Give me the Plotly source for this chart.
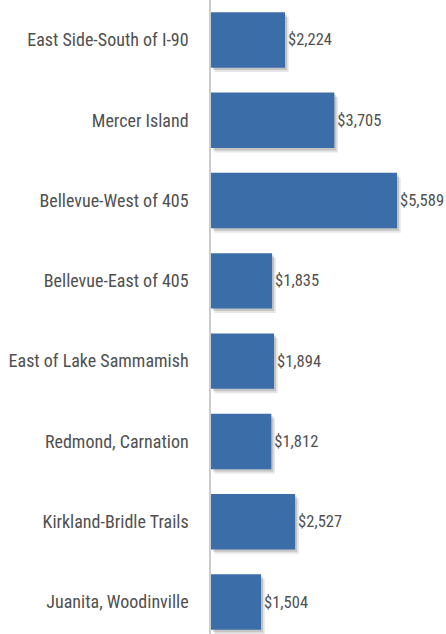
import plotly.graph_objects as go

categories = ["East Side-South of I-90", "Mercer Island", "Bellevue-West of 405",
              "Bellevue-East of 405", "East of Lake Sammamish", "Redmond, Carnation",
              "Kirkland-Bridle Trails", "Juanita, Woodinville"]
values = [2224, 3705, 5589, 1835, 1894, 1812, 2527, 1504]
labels = ["$" + format(v, ",") for v in values]

font_family = "Liberation Sans Narrow, Roboto Condensed, Arial Narrow, sans-serif"

fig = go.Figure()
# soft drop shadow
fig.add_trace(go.Bar(
    y=categories, x=values, orientation="h", base=110,
    width=0.69, offset=-0.29,
    marker=dict(color="rgba(0,0,0,0.10)", line=dict(width=0)),
    hoverinfo="skip", showlegend=False,
))
fig.add_trace(go.Bar(
    y=categories, x=values, orientation="h", base=60,
    width=0.69, offset=-0.315,
    marker=dict(color="rgba(0,0,0,0.14)", line=dict(width=0)),
    hoverinfo="skip", showlegend=False,
))
fig.add_trace(go.Bar(
    y=categories, x=values, orientation="h",
    width=0.69,
    marker=dict(color="#3b6ea8", line=dict(width=0)),
    text=labels, textposition="outside", cliponaxis=False,
    textfont=dict(family=font_family, size=16.5, color="#505050"),
    showlegend=False,
))

fig.update_layout(
    width=446, height=634,
    margin=dict(l=211, r=0, t=0, b=0),
    barmode="overlay",
    plot_bgcolor="white", paper_bgcolor="white",
    font=dict(family=font_family, color="#505050"),
    xaxis=dict(range=[0, 7060], showgrid=False, zeroline=False,
               showticklabels=False, ticks=""),
    yaxis=dict(range=[7.398, -0.498], showgrid=False, zeroline=False,
               showline=True, linecolor="#cccccc", linewidth=1.5,
               ticks="", ticklabelstandoff=17,
               tickfont=dict(family=font_family, size=18, color="#505050")),
)

fig.write_html("out.html",
               config={"displayModeBar": False},
               post_script="document.body.style.margin='0';document.body.style.overflow='hidden';")
